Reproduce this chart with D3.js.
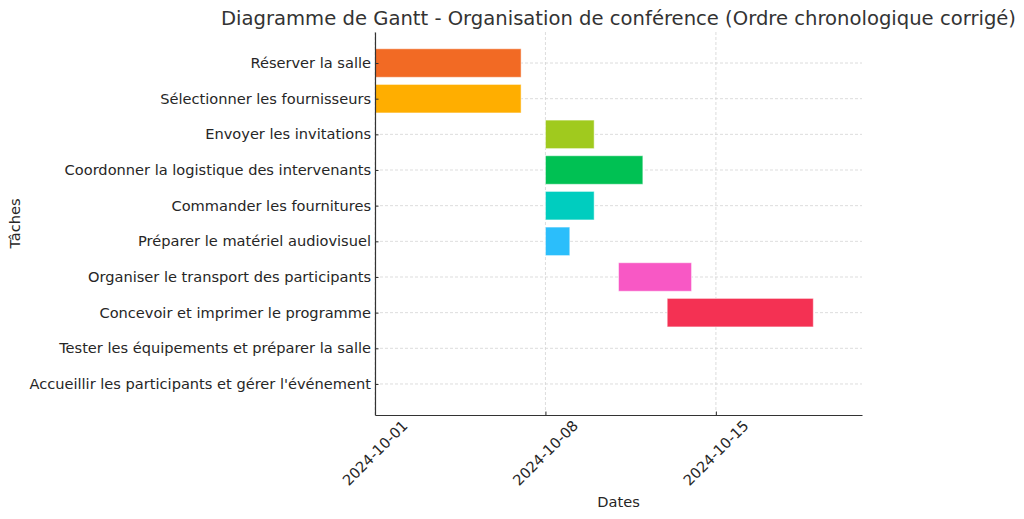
<!DOCTYPE html>
<html>
<head>
<meta charset="utf-8">
<script src="https://cdn.jsdelivr.net/npm/d3@7"></script>
<style>
  body { margin: 0; background: #fff; }
  svg { font-family: "DejaVu Sans", sans-serif; }
</style>
</head>
<body>
<div id="chart"></div>
<script>
// Gantt chart: conference organisation tasks

var tasks = [
    "Réserver la salle",
    "Sélectionner les fournisseurs",
    "Envoyer les invitations",
    "Coordonner la logistique des intervenants",
    "Commander les fournitures",
    "Préparer le matériel audiovisuel",
    "Organiser le transport des participants",
    "Concevoir et imprimer le programme",
    "Tester les équipements et préparer la salle",
    "Accueillir les participants et gérer l'événement"
];
var startDates = ["2024-10-01", "2024-10-01", "2024-10-08", "2024-10-08", "2024-10-08",
    "2024-10-08", "2024-10-11", "2024-10-13", null, null];
var endDates = ["2024-10-07", "2024-10-07", "2024-10-10", "2024-10-12", "2024-10-10",
    "2024-10-09", "2024-10-14", "2024-10-19", null, null];
var colors = ["#F26A24", "#FFAE00", "#A0CA1E", "#00C153", "#00CDBF",
    "#2BBEFB", "#F858C5", "#F43153", "#888888", "#888888"];
var tickDates = ["2024-10-01", "2024-10-08", "2024-10-15"];

var svgWidth = 1024;
var svgHeight = 519;
var margin = { top: 32, right: 162, bottom: 104, left: 375 };
var chartWidth = svgWidth - margin.left - margin.right;
var chartHeight = svgHeight - margin.top - margin.bottom;
var fontSize = 14.6;

var parse = d3.utcParse("%Y-%m-%d");

var svg = d3.select("#chart")
    .append("svg")
    .attr("width", svgWidth)
    .attr("height", svgHeight);

var chartGroup = svg.append("g")
    .attr("transform", `translate(${margin.left}, ${margin.top})`);

var xScale = d3.scaleUtc()
    .domain([parse("2024-10-01"), parse("2024-10-21")])
    .range([0, chartWidth]);

var yScale = d3.scaleLinear()
    .domain([-0.87, tasks.length - 1 + 0.87])
    .range([0, chartHeight]);

// grid lines
chartGroup.append("g")
    .selectAll("line")
    .data(tickDates)
    .enter()
    .append("line")
    .attr("x1", d => xScale(parse(d)))
    .attr("x2", d => xScale(parse(d)))
    .attr("y1", 0)
    .attr("y2", chartHeight)
    .attr("stroke", "#d4d4d4")
    .attr("stroke-width", 0.8)
    .attr("stroke-dasharray", "3,2");

chartGroup.append("g")
    .selectAll("line")
    .data(tasks)
    .enter()
    .append("line")
    .attr("x1", 0)
    .attr("x2", chartWidth)
    .attr("y1", (d, i) => yScale(i))
    .attr("y2", (d, i) => yScale(i))
    .attr("stroke", "#d4d4d4")
    .attr("stroke-width", 0.8)
    .attr("stroke-dasharray", "3,2");

// bars
var barData = tasks.map((t, i) => ({ task: t, i: i, start: startDates[i], end: endDates[i], color: colors[i] }))
    .filter(d => d.start);

chartGroup.selectAll("rect.bar")
    .data(barData)
    .enter()
    .append("rect")
    .attr("class", "bar")
    .attr("x", d => xScale(parse(d.start)))
    .attr("width", d => xScale(parse(d.end)) - xScale(parse(d.start)))
    .attr("y", d => yScale(d.i - 0.4))
    .attr("height", d => yScale(d.i + 0.4) - yScale(d.i - 0.4))
    .attr("fill", d => d.color)
    .attr("stroke", "rgba(255,255,255,0.5)")
    .attr("stroke-width", 1);

// axes
var xAxis = d3.axisBottom(xScale)
    .tickValues(tickDates.map(parse))
    .tickSizeInner(-3.5)
    .tickSizeOuter(0)
    .tickFormat("");

var yAxis = d3.axisLeft(yScale)
    .tickValues(d3.range(tasks.length))
    .tickSizeInner(-3.5)
    .tickSizeOuter(0)
    .tickFormat("");

var xG = chartGroup.append("g")
    .attr("transform", `translate(0, ${chartHeight})`)
    .call(xAxis);
var yG = chartGroup.append("g").call(yAxis);

[xG, yG].forEach(function(g) {
    g.select(".domain").attr("stroke", "#333").attr("stroke-width", 1.2);
    g.selectAll(".tick line").attr("stroke", "#333").attr("stroke-width", 1);
});

// y tick labels
chartGroup.append("g")
    .selectAll("text")
    .data(tasks)
    .enter()
    .append("text")
    .attr("x", -4)
    .attr("y", (d, i) => yScale(i))
    .attr("dy", "0.35em")
    .attr("text-anchor", "end")
    .attr("font-size", fontSize)
    .attr("fill", "#262626")
    .text(d => d);

// x tick labels, rotated 45 degrees
chartGroup.append("g")
    .selectAll("text")
    .data(tickDates)
    .enter()
    .append("text")
    .attr("transform", d => `translate(${xScale(parse(d))}, ${chartHeight + 38}) rotate(-45)`)
    .attr("text-anchor", "middle")
    .attr("dy", "0.35em")
    .attr("font-size", fontSize)
    .attr("fill", "#262626")
    .text(d => d);

// axis titles
svg.append("text")
    .attr("x", margin.left + chartWidth / 2)
    .attr("y", 507)
    .attr("text-anchor", "middle")
    .attr("font-size", fontSize)
    .attr("fill", "#262626")
    .text("Dates");

svg.append("text")
    .attr("transform", `translate(20, ${margin.top + chartHeight / 2}) rotate(-90)`)
    .attr("text-anchor", "middle")
    .attr("font-size", fontSize)
    .attr("fill", "#262626")
    .text("Tâches");

// title
svg.append("text")
    .attr("x", margin.left + chartWidth / 2)
    .attr("y", 25)
    .attr("text-anchor", "middle")
    .attr("font-size", 19.6)
    .attr("fill", "#333")
    .text("Diagramme de Gantt - Organisation de conférence (Ordre chronologique corrigé)");
</script>
</body>
</html>
